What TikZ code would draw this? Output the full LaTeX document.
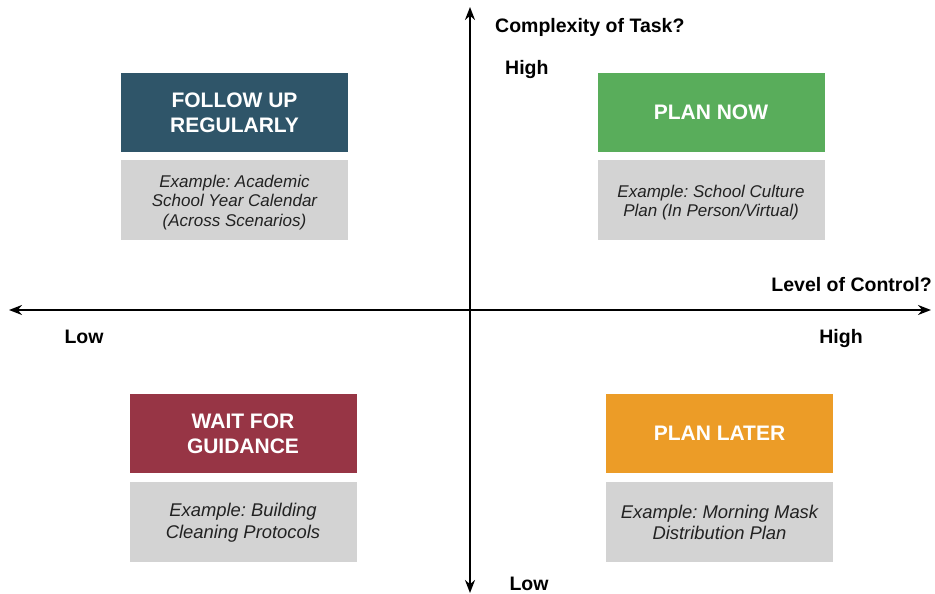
\documentclass[tikz,border=0pt]{standalone}
\usepackage{fontspec}
\setmainfont{Liberation Sans}
\usetikzlibrary{arrows.meta}
\definecolor{cblue}{HTML}{2F5569}
\definecolor{cgreen}{HTML}{59AD5B}
\definecolor{cred}{HTML}{973545}
\definecolor{corange}{HTML}{EC9C27}
\definecolor{cgray}{HTML}{D3D3D3}
\definecolor{ctext}{HTML}{222222}
\tikzset{
  headbox/.style={minimum width=227pt,minimum height=79pt,inner sep=0pt,align=center,text=white,
    font=\fontsize{21pt}{25pt}\selectfont\bfseries},
  exbox/.style={fill=cgray,minimum width=227pt,minimum height=80pt,inner sep=0pt},
  extext/.style={inner sep=0pt,align=center,text=ctext,yshift=-2.5pt,
    font=\fontsize{17pt}{19.5pt}\selectfont\itshape},
  extextbig/.style={extext,yshift=1.5pt,font=\fontsize{18.4pt}{21.5pt}\selectfont\itshape},
  axislabel/.style={inner sep=0pt,text=black,font=\fontsize{19.5pt}{23pt}\selectfont\bfseries},
  axisline/.style={line width=2pt,{Stealth[length=13pt,width=10pt]}-{Stealth[length=13pt,width=10pt]}}
}
\begin{document}
\frenchspacing
\begin{tikzpicture}[x=1pt,y=-1pt]
\useasboundingbox (0,0) rectangle (935,594);
\coordinate (vtop) at (470,7);
\coordinate (vbot) at (470,593);
\coordinate (hleft) at (9,310);
\coordinate (hright) at (931,310);
\draw[axisline] (vbot) -- (vtop);
\draw[axisline] (hleft) -- (hright);

\node[axislabel,anchor=west] (ytitle) at (495,27) {Complexity of Task?};
\node[axislabel,anchor=west] (yhigh) at (505,70) {High};
\node[axislabel] (ylow) at (529,584) {Low};
\node[axislabel,anchor=east] (xtitle) at (932,285) {Level of Control?};
\node[axislabel] (xlow) at (84,337) {Low};
\node[axislabel] (xhigh) at (841,338) {High};

\node[headbox,fill=cblue] (follow) at (234.5,112.5) {FOLLOW UP\\REGULARLY};
\node[exbox,label={[extext]center:Example: Academic\\School Year Calendar\\(Across Scenarios)}] (followex) at (234.5,200) {};

\node[headbox,fill=cgreen] (now) at (711,112.5) {PLAN NOW};
\node[exbox,label={[extext]center:Example: School Culture\\Plan (In Person/Virtual)}] (nowex) at (711,200) {};

\node[headbox,fill=cred] (wait) at (243,433.5) {WAIT FOR\\GUIDANCE};
\node[exbox,label={[extextbig]center:Example: Building\\Cleaning Protocols}] (waitex) at (243,521.5) {};

\node[headbox,fill=corange] (later) at (719.5,433.5) {PLAN LATER};
\node[exbox,label={[extextbig]center:Example: Morning Mask\\Distribution Plan}] (laterex) at (719.5,521.5) {};
\end{tikzpicture}
\end{document}
